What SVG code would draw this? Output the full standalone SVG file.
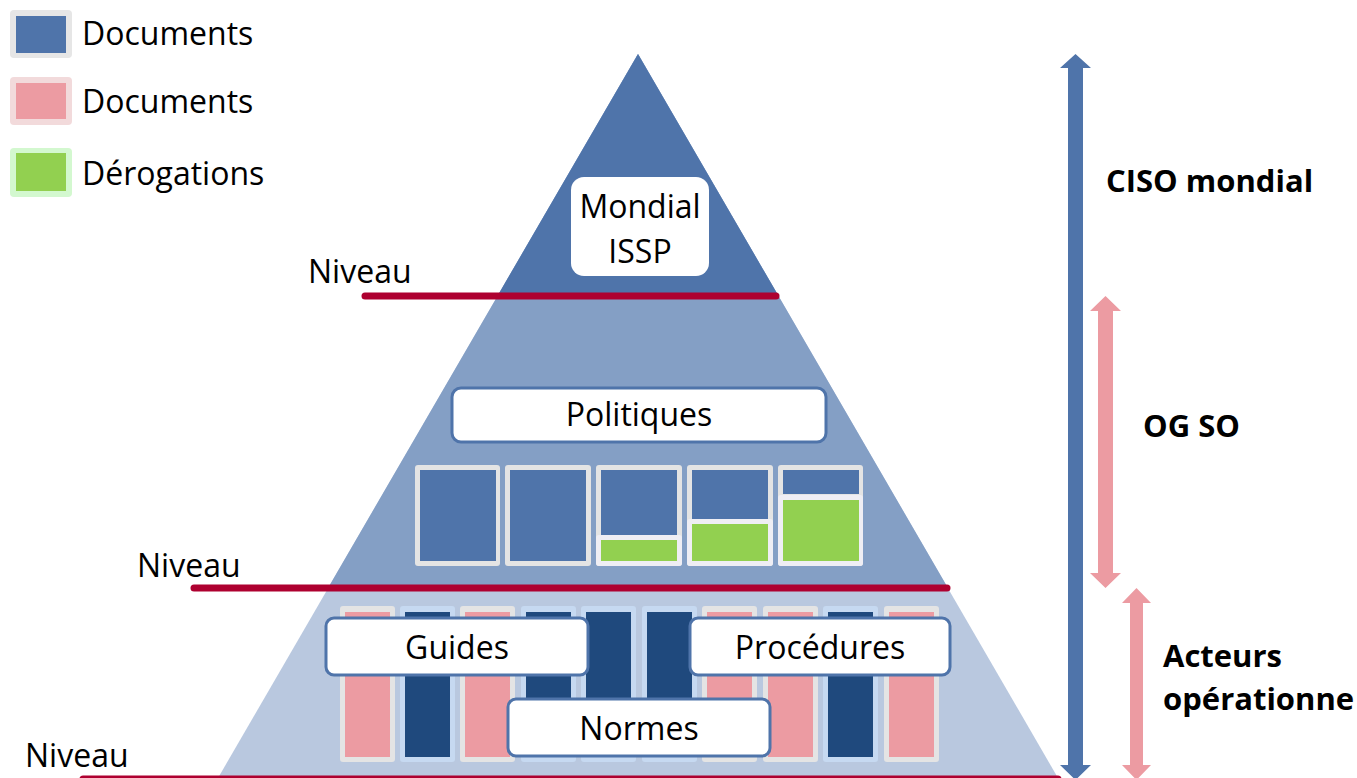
<svg xmlns="http://www.w3.org/2000/svg" width="1357" height="778" viewBox="0 0 1357 778">
<style>
text{font-family:"Open Sans","Liberation Sans",sans-serif;fill:#000}
.t{font-size:32px}
.c{text-anchor:middle}
.b{font-size:31px;font-weight:bold}
.lvl{stroke:#AE0030;stroke-width:7;stroke-linecap:round;fill:none}
.lbl{fill:#fff;stroke:#4F74AA;stroke-width:3}
.gb{fill:#E4E4E4}
.lb{fill:#C6D9F1}
.blue{fill:#4F74AA}
.pink{fill:#EC9BA2}
.green{fill:#92D050}
.dark{fill:#1F497D}
.gw{fill:#EFEEF4}
</style>

<g id="legend">
  <rect x="10" y="10" width="62" height="48" rx="4" fill="#E6E6E6"/>
  <rect x="16" y="16" width="50" height="37" class="blue"/>
  <text x="82" y="45" class="t">Documents</text>
  <rect x="10" y="77" width="62" height="48" rx="4" fill="#F2DADB"/>
  <rect x="16" y="83" width="50" height="36" class="pink"/>
  <text x="82" y="113" class="t">Documents</text>
  <rect x="10" y="148" width="62" height="49" rx="4" fill="#D3F8CF"/>
  <rect x="16" y="153" width="50" height="38" class="green"/>
  <text x="82" y="185" class="t">Dérogations</text>
</g>

<g id="pyramid">
  <polygon points="638,54 1058,778 218,778" fill="#B9C8DF"/>
  <polygon points="638,54 948,588 328,588" fill="#849FC5"/>
  <polygon points="638,54 778,295 498,295" fill="#4F74AA"/>
</g>

<g id="levels">
  <line x1="365" y1="296" x2="776" y2="296" class="lvl"/>
  <text x="308" y="283" class="t">Niveau</text>
  <line x1="194" y1="588" x2="947" y2="588" class="lvl"/>
  <text x="137" y="577" class="t">Niveau</text>
  <line x1="83" y1="779" x2="1058" y2="779" class="lvl"/>
  <text x="25" y="767" class="t">Niveau</text>
</g>

<g id="mondial">
  <rect x="571" y="177" width="138" height="99" rx="13" fill="#fff"/>
  <text x="640" y="218" class="t c">Mondial</text>
  <text x="640" y="263" class="t c">ISSP</text>
</g>

<g id="politiques">
  <rect x="452" y="388" width="374" height="54" rx="9" class="lbl"/>
  <text x="639" y="426" class="t c">Politiques</text>
</g>

<g id="policy-docs">
  <rect x="415" y="465" width="85" height="101" rx="3" class="gb"/>
  <rect x="420" y="470" width="76" height="91" class="blue"/>
  <rect x="505" y="465" width="86" height="101" rx="3" class="gb"/>
  <rect x="510" y="470" width="76" height="91" class="blue"/>
  <rect x="596" y="465" width="86" height="101" rx="3" class="gb"/>
  <rect x="601" y="470" width="76" height="65" class="blue"/>
  <rect x="596" y="535" width="86" height="31" rx="3" class="gw"/>
  <rect x="601" y="540" width="76" height="21" class="green"/>
  <rect x="687" y="465" width="86" height="101" rx="3" class="gb"/>
  <rect x="692" y="470" width="76" height="49" class="blue"/>
  <rect x="687" y="519" width="86" height="47" rx="3" class="gw"/>
  <rect x="692" y="524" width="76" height="37" class="green"/>
  <rect x="778" y="465" width="85" height="101" rx="3" class="gb"/>
  <rect x="783" y="470" width="76" height="24" class="blue"/>
  <rect x="778" y="495" width="85" height="71" rx="3" class="gw"/>
  <rect x="783" y="500" width="76" height="61" class="green"/>
</g>

<g id="operational-docs">
  <rect x="340" y="606" width="55" height="156" rx="3" class="gb"/>
  <rect x="345" y="612" width="45" height="145" class="pink"/>
  <rect x="400" y="606" width="55" height="156" rx="3" class="lb"/>
  <rect x="405" y="612" width="45" height="145" class="dark"/>
  <rect x="460" y="606" width="55" height="156" rx="3" class="gb"/>
  <rect x="465" y="612" width="45" height="145" class="pink"/>
  <rect x="521" y="606" width="55" height="156" rx="3" class="lb"/>
  <rect x="526" y="612" width="45" height="145" class="dark"/>
  <rect x="581" y="606" width="55" height="156" rx="3" class="lb"/>
  <rect x="586" y="612" width="45" height="145" class="dark"/>
  <rect x="642" y="606" width="55" height="156" rx="3" class="lb"/>
  <rect x="647" y="612" width="45" height="145" class="dark"/>
  <rect x="702" y="606" width="55" height="156" rx="3" class="gb"/>
  <rect x="707" y="612" width="45" height="145" class="pink"/>
  <rect x="763" y="606" width="55" height="156" rx="3" class="gb"/>
  <rect x="768" y="612" width="45" height="145" class="pink"/>
  <rect x="823" y="606" width="55" height="156" rx="3" class="lb"/>
  <rect x="828" y="612" width="45" height="145" class="dark"/>
  <rect x="884" y="606" width="55" height="156" rx="3" class="gb"/>
  <rect x="889" y="612" width="45" height="145" class="pink"/>
</g>

<g id="guides">
  <rect x="326" y="618" width="262" height="57" rx="8" class="lbl"/>
  <text x="457" y="659" class="t c">Guides</text>
</g>
<g id="procedures">
  <rect x="690" y="618" width="260" height="57" rx="8" class="lbl"/>
  <text x="820" y="659" class="t c">Procédures</text>
</g>
<g id="normes">
  <rect x="508" y="699" width="262" height="57" rx="8" class="lbl"/>
  <text x="639" y="740" class="t c">Normes</text>
</g>

<g id="connectors">
  <polygon points="1075.5,54 1091,68 1083,68 1083,765 1091,765 1075.5,780 1060,765 1068,765 1068,68 1060,68" fill="#4F74AA"/>
  <polygon points="1105.5,296 1121,311 1113,311 1113,573 1121,573 1105.5,588 1090,573 1098,573 1098,311 1090,311" fill="#EC9BA2"/>
  <polygon points="1136.5,588 1151,603 1143,603 1143,765 1151,765 1136.5,780 1122,765 1130,765 1130,603 1122,603" fill="#EC9BA2"/>
</g>

<g id="actor-labels">
  <text x="1106" y="192" class="b">CISO mondial</text>
  <text x="1143" y="437" class="b">OG SO</text>
  <text x="1163" y="667" class="b">Acteurs</text>
  <text x="1163" y="710" class="b">opérationne</text>
</g>
</svg>
